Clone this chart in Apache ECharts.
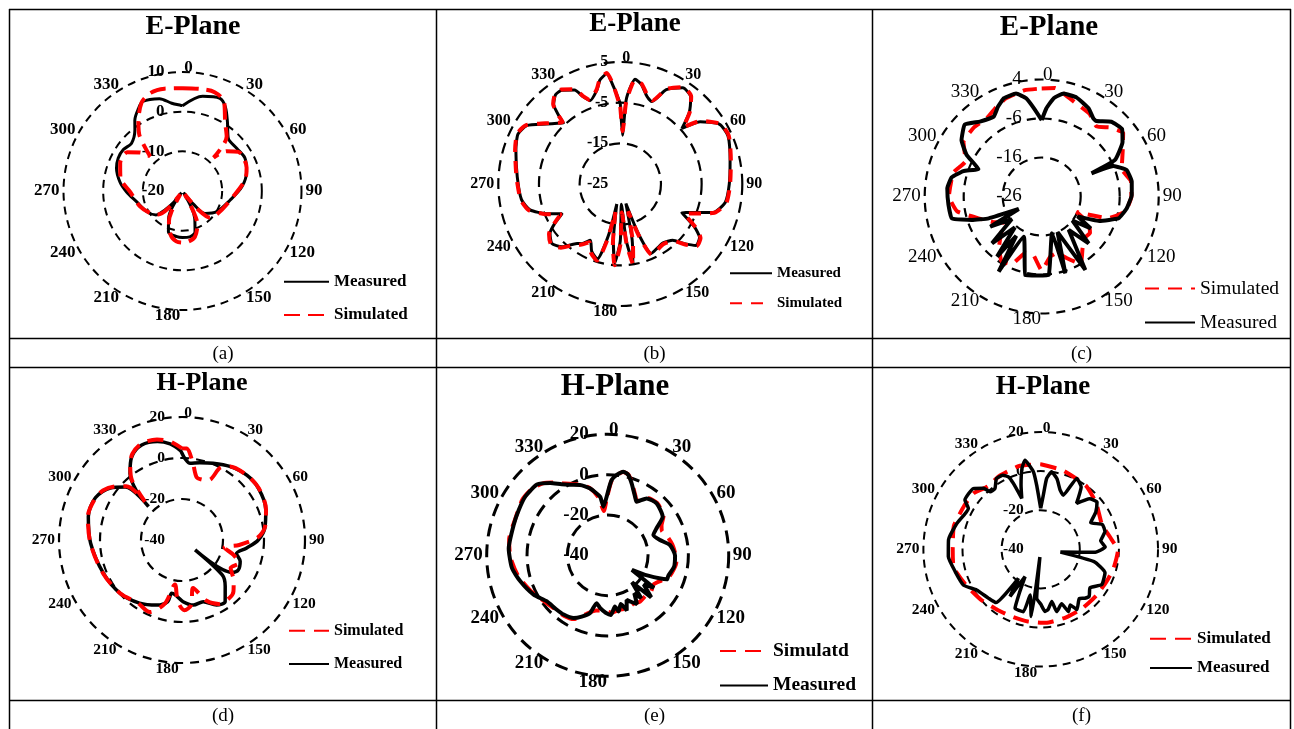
<!DOCTYPE html>
<html>
<head>
<meta charset="utf-8">
<script src="https://cdn.jsdelivr.net/npm/echarts@6/dist/echarts.min.js"></script>
<style>
  html, body { margin: 0; padding: 0; background: #fff; }
  #chart { width: 1294px; height: 729px; }
</style>
</head>
<body>
<div id="chart"></div>
<script>
// ---- Radiation patterns: angle (deg, clockwise from 0) and gain (dB) ----
// (a) E-plane
const aMeasDeg = [0,12,22,27,33,41,52,62,73,86,101,121,135,140,146,152,156,163,171,180,187,199,207,212,218,223,228,240,257,269,278,289,297,305,313,322,326,332,336,346,353,360];
const aMeasDb  = [1.5,4.4,5.2,3.8,0.8,-2.4,-2.6,-2.2,-3.1,-5.0,-7.8,-9.9,-12.0,-15.5,-19.5,-15,-12.4,-9.2,-8.3,-8.3,-8.4,-9.1,-12.3,-19.5,-16.5,-13.5,-11.0,-9.6,-8.1,-5.9,-4.1,-2.4,-1.8,-1.8,-2.4,-0.5,1.5,3.6,4.7,4.0,2.3,1.5];
const aSimDeg  = [0,10,18,25,32,39,43,48,55,62,70,80,96,115,134,140,146,152,156,165,173,180,187,195,204,208,214,220,226,236,250,269,282,294,305,312,317,322,327,335,342,350,360];
const aSimDb   = [5.9,6.1,6.2,4.8,0.3,-2.3,-8.5,-5,-2.8,-2.5,-2.8,-4.0,-7.1,-9.0,-10.3,-14,-19,-14,-10.7,-8.0,-7.2,-7.0,-7.2,-8.5,-11.6,-14,-19,-14,-11.5,-10.1,-8.6,-6.8,-4.0,-2.8,-3.0,-5.5,-8,-2.5,0.4,4.5,6.0,6.2,5.9];

// (b) E-plane
const bDeg     = [0,2.5,4,6,8,12,17,21,26,33,39,44,48,52,59,66,78,90,100,107,115,120,124,129,133,137,144,150,156,160,164,168,171,174,177,180,184,187,190,193,197,203,208,213,216,223,229,235,239,243,248,254,261,274,288,296,302,309,314,317,318,320,324,328,334,337,340,346,349,353,356,360];
const bMeasDb  = [-5.2,-13,-4.3,-1,1.0,0,-2.5,-3.3,0.8,3.2,2.5,-0.6,-4.6,-0.1,3.5,4.0,2.6,1.8,1.2,-1.1,-8.3,-4,-1.5,-1.0,-3.5,-6.1,-7.1,-6.8,-6.3,-12,-20,-11,-5.2,-11,-20,-11,-5.5,-11,-20,-12,-5.7,-7,-9.3,-7.5,-6.9,-3.9,-2.7,-3.9,-6.2,-8.9,-5.5,-1.9,-0.4,0.4,2.0,3.0,2.1,-1.6,-3.5,-4.5,-2.5,0.5,2.1,2.2,0.7,-1.7,-3.2,-1.2,1.1,2.3,-1,-5.2];
const bSimDb   = [-6,-12,-5,-1.5,0.8,0.2,-2.2,-3.0,1.0,3.4,2.7,-0.4,-4.2,0.2,3.7,4.2,2.8,2.0,1.5,-0.8,-7.5,-3.6,-1.2,-0.8,-3.2,-5.8,-6.8,-6.5,-6.0,-11,-18,-10,-4.8,-10,-18,-10,-5.0,-10,-18,-11,-5.3,-6.6,-8.8,-7.2,-6.6,-3.6,-2.4,-3.6,-6.0,-8.5,-5.2,-1.6,-0.2,0.6,2.2,3.2,2.3,-1.3,-3.3,-4.2,-2.2,0.7,2.3,2.4,0.9,-1.5,-3.0,-1.0,1.3,2.5,-0.7,-6];

// (c) E-plane
const cMeasDeg = [0,3,7,12,19.5,28,33.5,36,43,50,56,63.5,65,67,72.7,80.6,89,98,105.8,113,119,123,128,134.9,141,149.3,156,162.9,164.3,174.9,183,191.8,204,209.8,213,216.6,221,226.7,233,239.6,241.5,247.6,251.4,256.3,265,275,282,288,293.5,299,305,313,320.5,329,334,339,346,351,355,360];
const cMeasDb  = [-6.4,-3.4,-0.6,1.0,0.9,-0.4,-2.0,-2.1,0.2,0.9,-1.0,-5.0,-11.9,-6,-3.2,-2.6,-2.9,-4.0,-5.5,-10,-15.5,-11,-16,-9.0,-15,-4.1,-16,-5.4,-16.2,-5.8,-5.7,-5.4,-14.7,-3.8,-14,-6.8,-15.5,-8.5,-16.4,-10.7,-19.3,-11.3,-7.1,-2.3,-2.0,-1.7,-2.4,-4.9,-8.3,-4.0,-0.9,1.0,-1.1,-2.1,-0.4,1.0,1.2,-0.5,-3.3,-6.4];
const cSimDeg  = [0,7,20,30,38,45,52,60,71,80,90,100,108,114,120,127,134,142,150,158,165,172,180,188,196,204,212,220,228,234,242,251,260,270,285,295,305,316,325,333,340,351,360];
const cSimDb   = [1.7,2.0,-0.5,-1.5,-3.2,-1,0.5,-2,-4.3,-2.8,-3,-4.2,-8,-16.2,-12,-10.5,-10.7,-9,-6,-9,-11,-10.4,-7,-10.8,-11,-7,-6.5,-9,-12,-14.4,-12,-8.8,-4,-2.2,-2.5,-4.5,-1.5,-1.2,-1.5,-0.3,0.8,1.6,1.7];

// (d) H-plane
const dMeasDeg = [0,2,6,13,22,33,45,56,70,81,90,97,104,110,118,123,127,131,137,145,152,161,170,179,187,191,193,201,214,229,247,268,284,296,306,313,315,317,322,329,337,346,353,359,360];
const dMeasDb  = [2.3,-0.2,-2.4,-1.3,0.4,2.8,4.7,5.0,3.5,1.0,-2.8,-8.2,-12.6,-9.8,-8.9,-11,-32,-14,-9.1,-3.3,-4.1,-8.2,-7.8,-9.9,-13,-13.5,-9.2,-6.0,-2.9,-0.2,1.6,4.6,7.1,7.0,3.2,-2.1,-16.9,-7.6,1.2,7.5,10.3,9.5,7.2,3.6,2.3];
const dSimDeg  = [0,3,8,13,18,24,28,33,45,56,70,81,88,95,100,106,112,120,128,135,140,150,158,167,172,178,184,189,195,204,215,229,247,268,284,295,302,309,314,316,320,325,330,337,346,353,360];
const dSimDb   = [4.7,4.7,-2,-8.5,-9,-8,0,2.8,4.7,5.2,3.6,1.0,-3,-12,-19,-14,-10,-12.6,-8,-4.5,-3.5,-4,-8,-16,-8,-5.7,-10,-18,-8,-1.5,-2.5,-0.2,1.8,4.7,7.3,7.0,5.5,1.5,-2.3,-14,-2,4,8.5,11,10.5,8.5,4.7];

// (e) H-plane
const eMeasDeg = [0,3,6.4,10.6,14.4,18.4,25,28.4,34.4,43.3,55,61,66,73.7,80.6,90.3,99.7,108.8,112,117,121,125,129,134,138,142,145,149,153,157,161,165,169,172,177,182,188,193,197,203,208.5,216.6,224,232.8,242,253.4,262.5,274,288,297,305.6,315,321.6,327,332,338.5,345,352.6,355,359,360];
const eMeasDb  = [-9,-2.6,0.1,2.2,1.1,-2.4,-7.9,-9.8,-5.8,-4.6,-6.7,-12.3,-15.2,-13.0,-8.7,-6.6,-6.6,-8.3,-8.3,-18,-26,-12,-17,-10,-22,-13,-17,-11.8,-14,-16,-11,-15,-11.6,-14.3,-10.4,-11.5,-13.5,-15.6,-10.1,-7,-4.6,-3.4,-3.0,-2.2,1.6,5.2,7.9,9.2,9.0,9.5,10.2,9.6,5.8,2,-0.4,-2.5,-5.6,-10.7,-15.8,-10.9,-9];
const eSimDeg  = [0,3,6.4,10.6,14.4,18.4,25,28.4,34.4,43.3,55,61,66,72,80.6,90.3,96,108.8,115,122,130,137,145,152,160,168,176,184,192,200,208,216,225,236.6,245,257,269,279,292,303,311,318,324,329,338.5,345,351,355,359,360];
const eSimDb   = [-10,-3,0,2,1.3,-2,-7.5,-9.5,-5.5,-4.3,-6.2,-9.5,-10.5,-9.1,-7.5,-6.2,-5.8,-7.6,-10.5,-13,-12,-12.5,-12,-12.8,-12,-12.3,-11.5,-12.5,-12,-9,-4.2,-3.0,-2.6,-0.5,2,5.6,8.3,9.5,9.3,10.5,10.0,8.0,4.6,1.5,-2.3,-5.4,-11,-18,-12,-10];

// (f) H-plane
const fMeasDeg = [0,2.8,4.8,8,13,18,22.6,27,33,38,44,50,56,62,68,74.6,82,88,93,98,103,110,120,128,134,138,142,149,152,156,159,165.6,168,173,176,180,184.7,186,188,193,195.5,203.5,206,209.8,213,217.6,220,227,237.6,245,255.4,265.5,275.8,287,299.5,303,312,316.8,318.7,323,328,333,336,337.5,339.6,343,347,350,354.6,356.4,360];
const fMeasDb  = [-19,-12.2,-3.6,0,-3,-8,-10,0.7,-2,-10.2,-4,-2.4,-6,-11,-6,-5.9,-9,-7,-12,-29.8,-12,-5,-3.9,-8,-5.5,-6.3,-8,-4.0,-7.8,-5.1,-10.1,-7.1,-12.7,-9,-8.1,-12,-14.9,-36,-5.3,-16,-6.9,-7.1,-15,-23.9,-11.2,-21.3,-4.4,-3.4,-1.2,3.5,5.2,7.4,7.4,4.9,2.5,6.2,6.4,2.8,-0.8,-1.1,2.7,2.5,0.6,-3.5,-12.2,-5.6,2.5,6.3,-0.1,-7.1,-19];
const fSimDeg  = [0,15,35,50,68,80,91,105,116,130,145,160,176,190,202,215,230,245,258,270,285,300,310,320,330,345,360];
const fSimDb   = [3.5,2,0,-3,-6.2,-4,-0.5,-1.5,-2.5,-3,-3,-2.8,-2.3,-2.5,-2.6,-2,0,2.5,5.5,5,6,5,4.7,2,3,4,3.5];

// Angle ticks, titles, captions and legend labels
const angleTicks      = [0,30,60,90,120,150,180,210,240,270,300,330];
const angleTickLabels = ['0','30','60','90','120','150','180','210','240','270','300','330'];
const panelTitles   = ['E-Plane','E-Plane','E-Plane','H-Plane','H-Plane','H-Plane'];
const panelCaptions = ['(a)','(b)','(c)','(d)','(e)','(f)'];
const measLabel = 'Measured';
const simLabels = ['Simulated','Simulated','Simulated','Simulated','Simulatd','Simulated'];

// ---- Layout and styling of each panel ----
const FONT = '"Liberation Serif", "Times New Roman", serif';
const panels = [
  { cx:182.5, cy:191,   r:119,   min:-20, max:10, step:10, meas:[aMeasDeg,aMeasDb], sim:[aSimDeg,aSimDb], measTop:false, smooth:0.3,
    tx:193, ty:27, tSize:28, lbl:17, bold:true, rMargin:18, grid:[8,6], gridW:2, measW:3, simW:4, simDash:[16,8],
    leg:{left:283, y1:281.7, dy:33.3, w:45, size:17, bold:true, simFirst:false} },
  { cx:620.3, cy:184,   r:122,   min:-25, max:5, step:10, meas:[bDeg,bMeasDb], sim:[bDeg,bSimDb], measTop:false, smooth:0.2,
    tx:635, ty:24, tSize:27, lbl:16, bold:true, rMargin:12, grid:[11,7], gridW:2.2, measW:3, simW:4, simDash:[12,9],
    leg:{left:729, y1:273.3, dy:30, w:42, size:15, bold:true, simFirst:false} },
  { cx:1041.7, cy:196.5, r:117,  min:-26, max:4, step:10, meas:[cMeasDeg,cMeasDb], sim:[cSimDeg,cSimDb], measTop:true, smooth:0.12,
    tx:1049, ty:28, tSize:29, lbl:19, bold:false, rMargin:20, grid:[9,7], gridW:2.2, measW:4, simW:4, simDash:[14,9],
    leg:{left:1144, y1:288.3, dy:33.4, w:50, size:19.5, bold:false, simFirst:true} },
  { cx:182,   cy:540,   r:123,   min:-40, max:20, step:20, meas:[dMeasDeg,dMeasDb], sim:[dSimDeg,dSimDb], measTop:false, smooth:0.3,
    tx:202, ty:383, tSize:26, lbl:15.5, bold:true, rMargin:17, grid:[9,7], gridW:2.2, measW:3.5, simW:4, simDash:[16,9],
    leg:{left:288, y1:630.7, dy:33.3, w:40, size:16, bold:true, simFirst:true} },
  { cx:607.7, cy:555.3, r:121,   min:-40, max:20, step:20, meas:[eMeasDeg,eMeasDb], sim:[eSimDeg,eSimDb], measTop:true, smooth:0.2,
    tx:615, ty:387, tSize:31, lbl:19, bold:true, rMargin:19, grid:[13,8], gridW:3, measW:4, simW:4, simDash:[16,9],
    leg:{left:719, y1:650.7, dy:34, w:48, size:19.5, bold:true, simFirst:true} },
  { cx:1040.7, cy:549.3, r:117.3, min:-40, max:20, step:20, meas:[fMeasDeg,fMeasDb], sim:[fSimDeg,fSimDb], measTop:true, smooth:0.15,
    tx:1043, ty:387, tSize:27, lbl:15.5, bold:true, rMargin:17, grid:[8,6], gridW:2, measW:3.5, simW:4, simDash:[16,9],
    leg:{left:1149, y1:638.7, dy:29.3, w:42, size:17, bold:true, simFirst:true} }
];

const toPolar = (deg, db) => deg.map((a, k) => [db[k], a]);

// Angle tick labels sit just beside the outer ring, left or right of it
function angleLabelItem(p, deg, k) {
  const rad = deg * Math.PI / 180;
  const label = { show: true, formatter: angleTickLabels[k] };
  if (deg === 0) { label.position = 'inside'; label.offset = [6, -4]; }
  else if (deg === 180) { label.position = 'inside'; label.offset = [-15, 6]; }
  else {
    label.position = deg < 180 ? 'right' : 'left';
    label.distance = 4;
    label.offset = [0, -4 * Math.cos(rad)];
  }
  return { value: [p.max, deg], label };
}

const polar = [], angleAxis = [], radiusAxis = [], series = [], legend = [];
const tags = ['a','b','c','d','e','f'];

panels.forEach((p, i) => {
  const weight = p.bold ? 'bold' : 'normal';
  polar.push({ center: [p.cx, p.cy], radius: p.r });
  angleAxis.push({
    polarIndex: i, type: 'value', min: 0, max: 360, interval: 30,
    startAngle: 90, clockwise: true,
    axisLine: { show: false }, axisTick: { show: false }, splitLine: { show: false },
    axisLabel: { show: false }
  });
  radiusAxis.push({
    polarIndex: i, type: 'value', min: p.min, max: p.max, interval: p.step,
    axisLine: { show: false }, axisTick: { show: false },
    splitLine: { show: true, lineStyle: { color: '#000', width: p.gridW, type: p.grid } },
    axisLabel: { margin: p.rMargin, color: '#000', fontFamily: FONT, fontSize: p.lbl, fontWeight: weight }
  });

  const measName = measLabel + ' (' + tags[i] + ')';
  const simName = simLabels[i] + ' (' + tags[i] + ')';
  const meas = {
    name: measName, type: 'line', coordinateSystem: 'polar', polarIndex: i,
    data: toPolar(p.meas[0], p.meas[1]), symbol: 'none', smooth: p.smooth,
    lineStyle: { color: '#000', width: p.measW }, itemStyle: { color: '#000' },
    silent: true, animation: false
  };
  const sim = {
    name: simName, type: 'line', coordinateSystem: 'polar', polarIndex: i,
    data: toPolar(p.sim[0], p.sim[1]), symbol: 'none', smooth: p.smooth,
    lineStyle: { color: '#ff0000', width: p.simW, type: p.simDash }, itemStyle: { color: '#ff0000' },
    silent: true, animation: false
  };
  if (p.measTop) series.push(sim, meas); else series.push(meas, sim);

  series.push({
    name: 'angle ticks ' + tags[i], type: 'scatter', coordinateSystem: 'polar', polarIndex: i,
    symbolSize: 0, clip: false, silent: true, animation: false,
    itemStyle: { opacity: 1, color: '#000' },
    label: { color: '#000', opacity: 1, fontFamily: FONT, fontSize: p.lbl, fontWeight: weight },
    data: angleTicks.map((deg, k) => angleLabelItem(p, deg, k))
  });

  const sz = p.leg.size;
  legend.push({
    orient: 'vertical', left: p.leg.left, top: p.leg.y1 - sz / 2, padding: 0,
    itemWidth: p.leg.w, itemHeight: sz, itemGap: p.leg.dy - sz,
    selectedMode: false,
    itemStyle: { opacity: 0 },
    data: p.leg.simFirst ? [simName, measName] : [measName, simName],
    formatter: n => n.replace(/ \([a-f]\)$/, ''),
    textStyle: { color: '#000', fontFamily: FONT, fontSize: sz, fontWeight: p.leg.bold ? 'bold' : 'normal', lineHeight: sz }
  });
});

// ---- Table frame, plot titles and captions ----
const frameColor = '#000';
const colX = [9.5, 436.5, 872.5, 1290.5];
const rowY = [9.5, 338.5, 367.5, 700.5];
const graphic = [];
colX.forEach(x => graphic.push({ type: 'line', shape: { x1: x, y1: 9, x2: x, y2: 729 }, style: { stroke: frameColor, lineWidth: 1.5 }, silent: true }));
rowY.forEach(y => graphic.push({ type: 'line', shape: { x1: 9, y1: y, x2: 1291, y2: y }, style: { stroke: frameColor, lineWidth: 1.5 }, silent: true }));
panels.forEach((p, i) => {
  graphic.push({ type: 'text', x: p.tx, y: p.ty, silent: true,
    style: { text: panelTitles[i], fill: '#000', font: 'bold ' + p.tSize + 'px ' + FONT, textAlign: 'center', textVerticalAlign: 'middle' } });
  const col = i % 3, row = Math.floor(i / 3);
  const capX = (colX[col] + colX[col + 1]) / 2;
  const capY = row === 0 ? 354 : 716;
  graphic.push({ type: 'text', x: capX, y: capY, silent: true,
    style: { text: panelCaptions[i], fill: '#000', font: '19px ' + FONT, textAlign: 'center', textVerticalAlign: 'middle' } });
});

const chart = echarts.init(document.getElementById('chart'), null, { renderer: 'canvas' });
chart.setOption({
  backgroundColor: '#fff',
  animation: false,
  polar, angleAxis, radiusAxis, series, legend, graphic
});
</script>
</body>
</html>
